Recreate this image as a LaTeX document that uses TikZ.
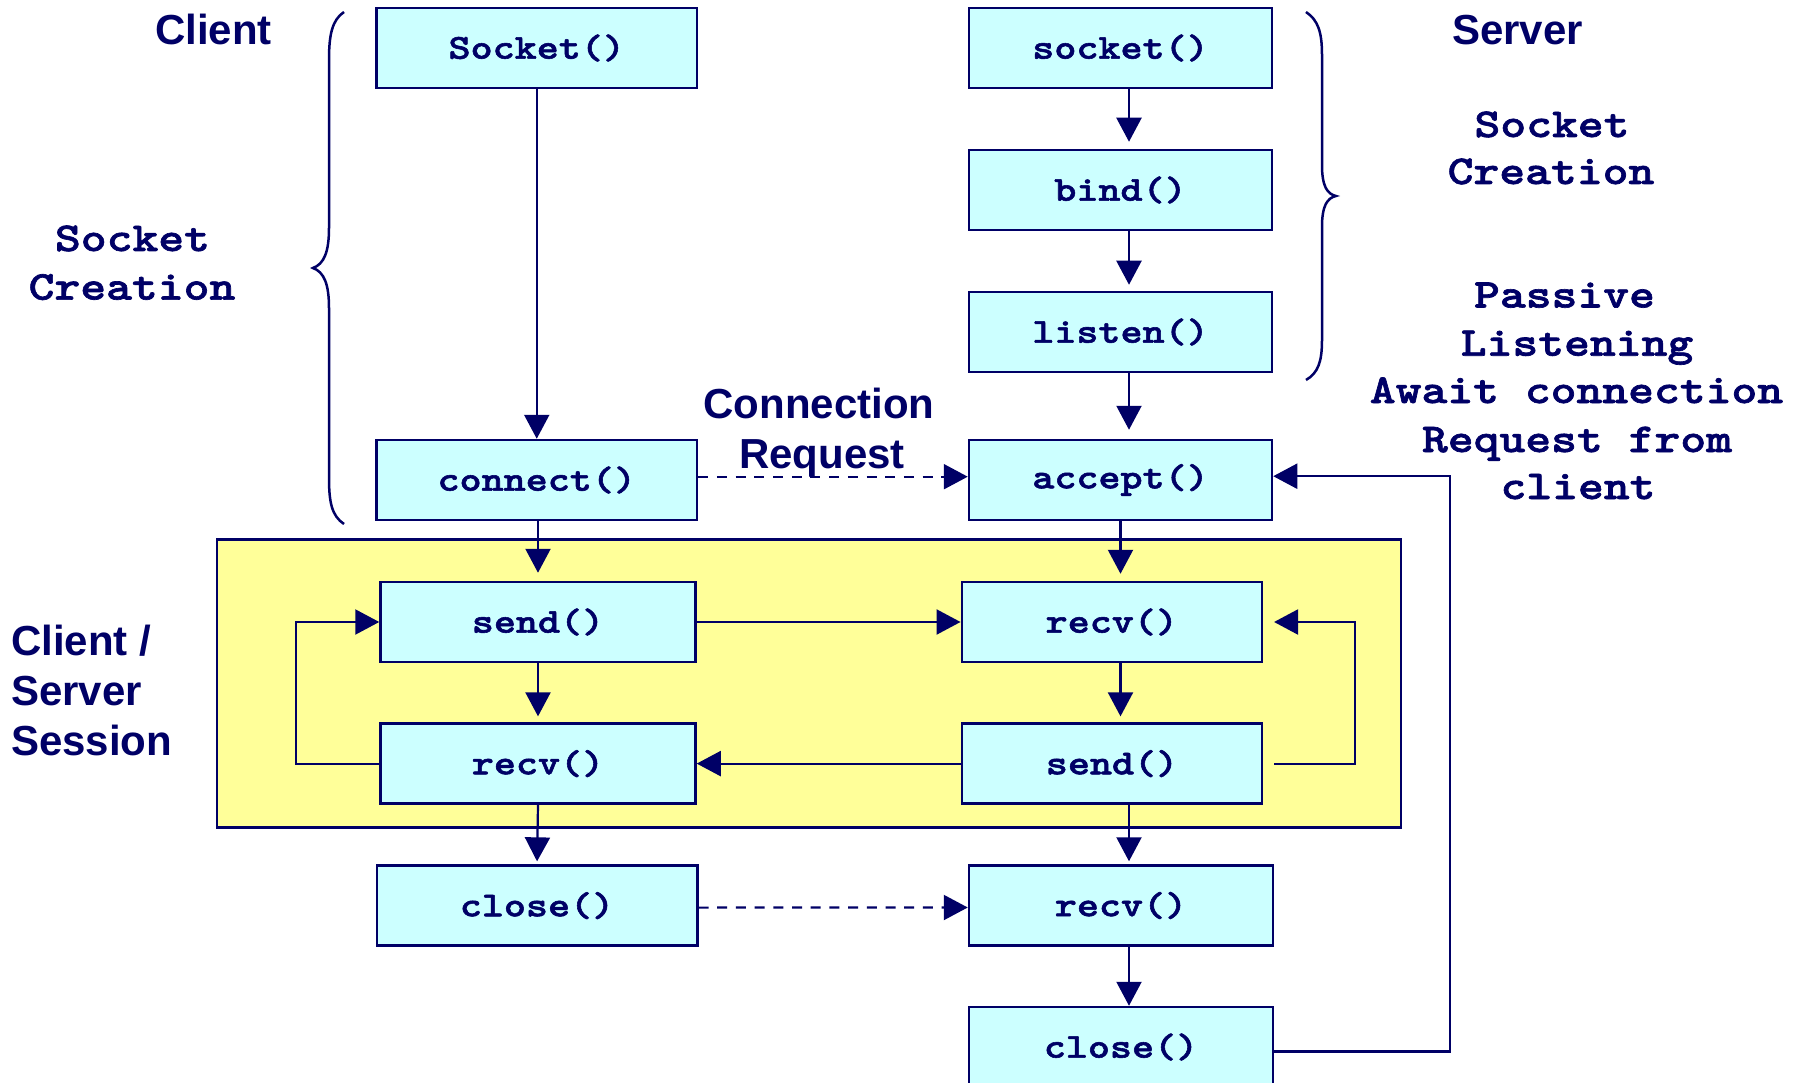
\documentclass[tikz,border=0pt]{standalone}
\usepackage{fontspec}
\setmainfont{Liberation Sans}
\newfontfamily\codefont{lmmonolt10-bold.otf}[FakeStretch=1.2,FakeBold=1.6]
\usetikzlibrary{arrows.meta}
\definecolor{navy}{RGB}{0,0,102}
\definecolor{callbox}{RGB}{204,255,255}
\definecolor{sessionbg}{RGB}{255,255,153}

\begin{document}
\begin{tikzpicture}[x=1pt,y=-1pt,
  call/.style={draw=navy, line width=2.5pt, fill=callbox, minimum height=80pt,
    inner sep=0pt, text=navy, font=\codefont\fontsize{35}{40}\selectfont},
  flow/.style={draw=navy, line width=2.2pt, -{Triangle[length=24pt,width=25pt]}},
  msg/.style={flow, dash pattern=on 10pt off 8.7pt},
  heading/.style={text=navy, font=\bfseries\fontsize{42}{50}\selectfont, inner sep=0pt},
  note/.style={text=navy, font=\codefont\fontsize{41}{48}\selectfont, inner sep=0pt, anchor=base},
  brace/.style={draw=navy, line width=2.5pt}
]
\useasboundingbox (0,0) rectangle (1800,1083);
\clip (0,0) rectangle (1800,1083);
\fill[white] (0,0) rectangle (1800,1083);

% session area
\filldraw[fill=sessionbg, draw=navy, line width=2.5pt] (217,539.7) rectangle (1401,827.7);

% column guide for the off-centre server arrows
\coordinate (sx) at (1129,0);

% client calls
\node[call, minimum width=320.5pt] (sockC)   at (536.75,48)   {Socket()};
\node[call, minimum width=320.5pt] (connect) at (536.75,480)  {connect()};
\node[call, minimum width=315pt]   (sendC)   at (538,622)     {send()};
\node[call, minimum width=315pt]   (recvC)   at (538,763.6)   {recv()};
\node[call, minimum width=320.5pt] (closeC)  at (537,905.6)   {close()};

% server calls
\node[call, minimum width=303pt] (sockS)  at (1120.5,48)   {socket()};
\node[call, minimum width=303pt] (bind)   at (1120.5,190)  {bind()};
\node[call, minimum width=303pt] (listen) at (1120.5,332)  {listen()};
\node[call, minimum width=303pt] (accept) at (1120.5,480)  {accept()};
\node[call, minimum width=300pt] (recvS)  at (1111.8,622)  {recv()};
\node[call, minimum width=300pt] (sendS)  at (1112,763.6)  {send()};
\node[call, minimum width=304pt] (recvS2) at (1121,905.5)  {recv()};
\node[call, minimum width=304pt] (closeS) at (1121,1047)   {close()};

% client flow
\draw[flow] (sockC.south) -- (connect.north);
\draw[flow, shorten >=8pt] (sendC.north |- connect.south) -- (sendC.north);
\draw[flow, shorten >=6pt] (sendC.south) -- (recvC.north);
\draw[flow, shorten >=3pt] (recvC.south) -- (closeC.north);
\draw[flow] (recvC.west) -- ++(-83,0) |- (sendC.west);

% server flow
\draw[flow, shorten >=7pt] (sockS.south -| sx) -- (bind.north -| sx);
\draw[flow, shorten >=6pt] (bind.south -| sx) -- (listen.north -| sx);
\draw[flow, shorten >=9pt] (listen.south -| sx) -- (accept.north -| sx);
\draw[flow, shorten >=7pt] (accept.south) -- (accept.south |- recvS.north);
\draw[flow, shorten >=6pt] (recvS.south -| accept.south) -- (sendS.north -| accept.south);
\draw[flow, shorten >=3pt] (sendS.south -| sx) -- (recvS2.north -| sx);
\draw[flow] (recvS2.south -| sx) -- (closeS.north -| sx);
\draw[flow] ([xshift=11pt]sendS.east) -- ++(80.5,0) |- ([xshift=11pt]recvS.east);
\draw[flow] ([yshift=-4.4pt]closeS.east) -- ++(176,0) |- ([yshift=3.8pt]accept.east);

% messages between the two sides
\draw[flow] (sendC.east) -- (recvS.west);
\draw[flow] (sendS.west) -- (recvC.east);
\draw[msg] ([yshift=3.3pt]connect.east) -- ([yshift=3.3pt]accept.west);
\draw[msg] ([yshift=-2pt]closeC.east) -- ([yshift=-2pt]recvS2.west);

% braces
\draw[brace] (344,12) .. controls (332,20) and (329,35) .. (329,60) -- (329,228)
  .. controls (329,252) and (324,264) .. (313,268)
  .. controls (324,272) and (329,284) .. (329,308) -- (329,478)
  .. controls (329,503) and (332,516) .. (344,524);
\draw[brace] (1306,12) .. controls (1318,20) and (1322,32) .. (1322,55) -- (1322,165)
  .. controls (1322,186) and (1327,194) .. (1336,196)
  .. controls (1327,198) and (1322,206) .. (1322,227) -- (1322,340)
  .. controls (1322,362) and (1318,373) .. (1306,380);

% headings
\node[heading, anchor=base west] (lblclient) at (155,45) {Client};
\node[heading, anchor=base west] (lblserver) at (1452,45) {Server};
\node[heading, anchor=base west] (sess1) at (11,655.7) {Client /};
\node[heading, anchor=base west] (sess2) at (11,705) {Server};
\node[heading, anchor=base west] (sess3) at (11,755) {Session};
\node[heading, anchor=base] (conn1) at (819,418.3) {Connection};
\node[heading, anchor=base] (conn2) at (822,468) {Request};

% phase notes
\node[note] (lsc1) at (132.5,251) {Socket};
\node[note] (lsc2) at (132,299.6) {Creation};
\node[note] (rsc1) at (1552,137) {Socket};
\node[note] (rsc2) at (1551,184) {Creation};
\node[note] (pl1) at (1564.5,307.5) {Passive};
\node[note] (pl2) at (1577,355.7) {Listening};
\node[note] (pl3) at (1576.5,403) {Await connection};
\node[note] (pl4) at (1577,452) {Request from};
\node[note] (pl5) at (1578,499) {client};
\end{tikzpicture}
\end{document}
